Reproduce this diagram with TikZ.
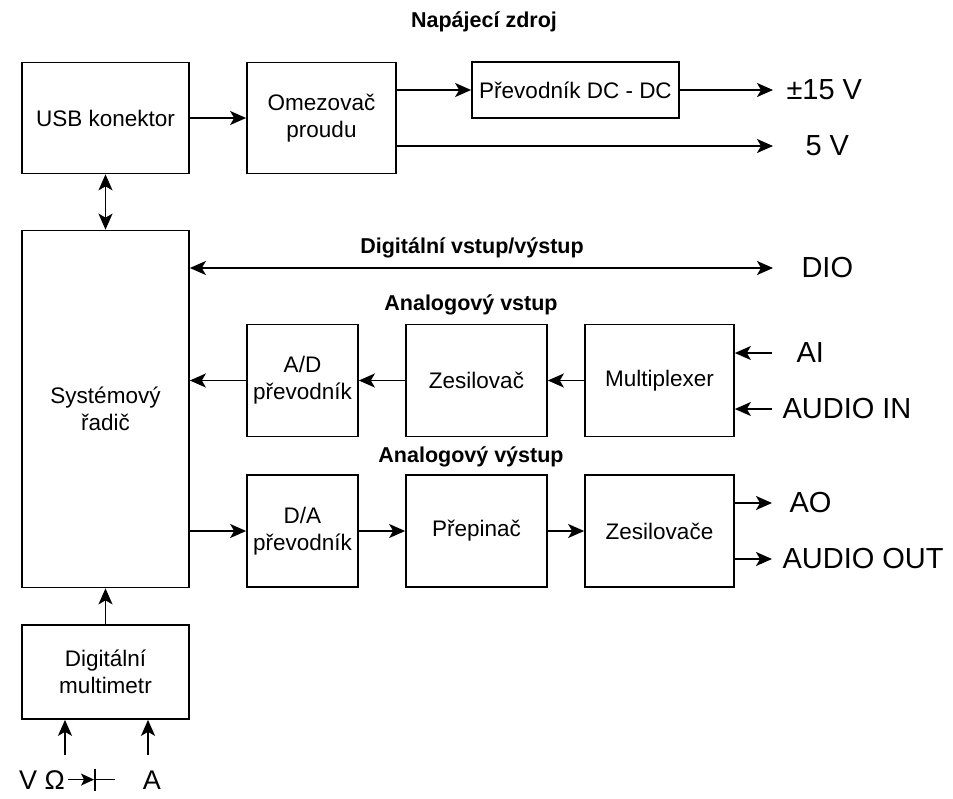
\documentclass[tikz,border=0pt]{standalone}
\usepackage{fontspec}
\setmainfont{Liberation Sans}
\usetikzlibrary{arrows.meta}

\begin{document}
\begin{tikzpicture}[x=1pt, y=-1pt,
  box/.style={draw, line width=1.7pt, align=center, inner sep=0pt, font=\fontsize{22.5}{27}\selectfont},
  wide/.style={box, minimum width=167pt},
  blk/.style={box, minimum width=141pt, minimum height=112pt},
  arr/.style={-{Stealth[length=16pt, width=14pt, inset=4pt]}, line width=1.7pt},
  darr/.style={{Stealth[length=16pt, width=14pt, inset=4pt]}-{Stealth[length=16pt, width=14pt, inset=4pt]}, line width=1.7pt},
  hdr/.style={font=\bfseries\fontsize{21.5}{24}\selectfont},
  sig/.style={anchor=west, font=\fontsize{29}{32}\selectfont}
]
\useasboundingbox (0,0) rectangle (953,798);
% power supply
\node[hdr] (hpow) at (484,22) {Napájecí zdroj};
\node[wide, minimum height=111pt] (usb) at (105.5,118) {USB konektor};
\node[box, minimum width=149pt, minimum height=111pt] (omez) at (321.5,118) {Omezovač\\proudu};
\node[box, minimum width=207pt, minimum height=56pt] (dcdc) at (575.5,90) {Převodník DC - DC};
\coordinate (o15) at (773,90);
\coordinate (o5) at (773,146);
\node[sig] (l15) at (783,90) {±15 V};
\node[sig] (l5) at (802,146) {5 V};
\draw[arr] (usb) -- (omez);
\draw[arr] (omez.east |- dcdc) -- (dcdc.west);
\draw[arr] (dcdc) -- (o15);
\draw[arr] (omez.east |- o5) -- (o5);
% controller and digital i/o
\node[wide, minimum height=357pt] (rid) at (105.5,409) {Systémový\\řadič};
\draw[darr] (usb) -- (rid);
\node[hdr] (hdio) at (472,248) {Digitální vstup/výstup};
\coordinate (dio) at (773,268);
\node[sig] (ldio) at (798,268) {DIO};
\draw[darr] (rid.east |- dio) -- (dio);
% analog input
\node[hdr] (hain) at (471,305) {Analogový vstup};
\node[blk, minimum width=111pt] (ad) at (302.5,380.5) {A/D\\převodník};
\node[blk] (zes) at (476.5,380.5) {Zesilovač};
\node[blk, minimum width=149pt] (mux) at (659.5,380.5) {Multiplexer};
\coordinate (ai) at (772,353);
\coordinate (ain) at (772,409);
\node[sig] (lai) at (793,353) {AI};
\node[sig] (lain) at (779,409) {AUDIO IN};
\draw[arr] (ai) -- (mux.east |- ai);
\draw[arr] (ain) -- (mux.east |- ain);
\draw[arr] (mux) -- (zes);
\draw[arr] (zes) -- (ad);
\draw[arr] (ad) -- (rid.east |- ad);
% analog output
\node[hdr] (haout) at (471,457) {Analogový výstup};
\node[blk, minimum width=111pt] (da) at (302.5,531) {D/A\\převodník};
\node[blk] (prep) at (476.5,531) {Přepinač};
\node[blk, minimum width=149pt] (zess) at (659.5,531) {Zesilovače};
\coordinate (ao) at (772,503);
\coordinate (aout) at (772,559);
\node[sig] (lao) at (786,503) {AO};
\node[sig] (laout) at (779,559) {AUDIO OUT};
\draw[arr] (rid.east |- da) -- (da);
\draw[arr] (da) -- (prep);
\draw[arr] (prep) -- (zess);
\draw[arr] (zess.east |- ao) -- (ao);
\draw[arr] (zess.east |- aout) -- (aout);
% multimeter
\node[wide, minimum height=94pt] (dmm) at (105.5,672) {Digitální\\multimetr};
\draw[arr] (dmm) -- (rid);
\coordinate (vin) at (65,755);
\coordinate (iin) at (148,755);
\draw[arr] (vin) -- (vin |- dmm.south);
\draw[arr] (iin) -- (iin |- dmm.south);
\node[sig, anchor=base, inner sep=0pt, font=\fontsize{27}{30}\selectfont] (lv) at (42,789) {V Ω};
\node[sig, anchor=base, inner sep=0pt, font=\fontsize{27}{30}\selectfont] (la) at (152,789) {A};
% diode symbol
\draw[-{Stealth[length=13pt, width=12pt, inset=3pt]}, line width=1.5pt] ([xshift=3pt]lv.east) -- ++(26,0) coordinate (dk);
\draw[line width=1.5pt] ([xshift=1pt]dk) ++(0,-11) -- ++(0,22);
\draw[line width=1.5pt] (dk) -- ++(21,0);
\end{tikzpicture}
\end{document}
